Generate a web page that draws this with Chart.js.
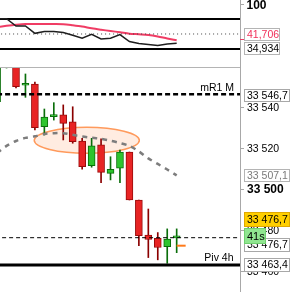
<!DOCTYPE html>
<html>
<head>
<meta charset="utf-8">
<script src="https://cdn.jsdelivr.net/npm/chart.js@4.4.1/dist/chart.umd.min.js"></script>
<style>
  html, body { margin: 0; padding: 0; background: #fff; }
  canvas { display: block; }
</style>
</head>
<body>
<canvas id="osc" width="290" height="67"></canvas>
<canvas id="price" width="290" height="225"></canvas>
<script>
// bars, -1 is cut by the left edge, 18 is the live one
const bars = [-1, 0, 1, 2, 3, 4, 5, 6, 7, 8, 9, 10, 11, 12, 13, 14, 15, 16, 17, 18];
const opens  = [33543.1, 33565, 33568, 33551.1, 33551.7, 33530.9, 33535.8, 33536.6, 33533.2, 33523.9, 33511.9, 33522.0, 33508.1, 33510.6, 33518.5, 33495.1, 33478.0, 33476.4, 33472.3, 33476.6];
const highs  = [33574, 33578, 33571, 33556.6, 33552.7, 33539.5, 33542.6, 33541.5, 33540.6, 33525.2, 33525.2, 33524.9, 33516.2, 33519.5, 33518.5, 33495.1, 33490.7, 33479.2, 33481.0, 33481.0];
const lows   = [33541, 33559.5, 33549.8, 33545.2, 33529.3, 33526.8, 33534.1, 33524.4, 33522.8, 33510.2, 33511.1, 33503.6, 33504.9, 33503.6, 33495.1, 33472.8, 33467.0, 33465.9, 33464.2, 33469.4];
const closes = [33570, 33572, 33550.4, 33552.0, 33530.4, 33535.5, 33536.0, 33532.5, 33523.6, 33511.4, 33521.5, 33508.6, 33510.1, 33518.5, 33495.1, 33477.7, 33475.8, 33471.9, 33476.0, 33476.7];

// grey dashed average
const trendCurve = [33518.0, 33521.5, 33523.9, 33525.4, 33526.2, 33527.3, 33527.7, 33527.7, 33526.9, 33526.1, 33525.5, 33524.9, 33524.0, 33522.9, 33521.5, 33518.8, 33515.4, 33512.7, 33510.0, 33507.1];

// oscillator panel
const oscMain   = [70.4, 70.4, 60.7, 60.7, 50.9, 53.3, 53.3, 52.0, 48.3, 44.3, 49.6, 43.3, 44.3, 49.3, 40.0, 37.3, 36.0, 34.7, 36.7, 37.6];
const oscSignal = [59.3, 60.9, 62.3, 63.3, 63.3, 63.3, 63.3, 63.1, 61.7, 60.0, 57.6, 55.7, 54.0, 52.3, 50.4, 49.6, 48.7, 46.7, 44.0, 41.706];
const oscLevels = [70, 50, 30];
const oscTopLabel = '100';
const oscTagValues = [41.706, 34.934];

// price levels
const MR1 = 33546.7;
const LAST = 33476.7;
const PIV = 33463.4;
const BID = 33472.8;
const barTimer = '41s';
// hand drawn ellipse (bar index / price)
const zone = { x: 8.49, y: 33524.2, rx: 5.56, ry: 6.34 };

const FONT = '"Liberation Sans", Arial, sans-serif';
const X_MIN = -0.693, X_MAX = 24.7;
const AXIS_GREY = '#a8a8a8';

function fmt(v, d) {
  const parts = v.toFixed(d).split('.');
  const int = parts[0].replace(/\B(?=(\d{3})+(?!\d))/g, ' ');
  return parts[1] ? int + ',' + parts[1] : int;
}

function hLine(y, color, width, dash) {
  return {
    type: 'line',
    data: [{ x: X_MIN - 2, y: y }, { x: X_MAX + 2, y: y }],
    borderColor: color, borderWidth: width, borderDash: dash || [],
    pointRadius: 0, clip: 0, order: 1
  };
}

function tagBox(ctx, x, yc, w, h, text, st) {
  const top = Math.round(yc - h / 2);
  ctx.fillStyle = st.bg;
  ctx.fillRect(x, top, w, h);
  ctx.strokeStyle = st.border;
  ctx.lineWidth = 1;
  ctx.strokeRect(x + 0.5, top + 0.5, w - 1, h - 1);
  ctx.fillStyle = st.color;
  ctx.font = st.font || ('10.5px ' + FONT);
  ctx.textAlign = 'left';
  ctx.textBaseline = 'middle';
  ctx.fillText(text, x + 3, top + h / 2 + 0.5);
}

// right axis: fixed width, no extra label padding
function fixAxis(s) {
  s.width = 50;
  s.paddingTop = 0;
  s.paddingBottom = 0;
}

const up = closes.map((c, i) => c >= opens[i]);

// ---------- oscillator ----------
const oscPlugin = {
  id: 'oscTags',
  afterDraw(chart) {
    const ctx = chart.ctx;
    const ys = chart.scales.y;
    const area = chart.chartArea;
    ctx.save();
    // top label
    ctx.strokeStyle = AXIS_GREY;
    ctx.lineWidth = 1;
    ctx.beginPath();
    ctx.moveTo(area.right, 4.5);
    ctx.lineTo(area.right + 4, 4.5);
    ctx.stroke();
    ctx.fillStyle = '#000';
    ctx.font = 'bold 12px ' + FONT;
    ctx.textBaseline = 'middle';
    ctx.fillText(oscTopLabel, area.right + 6.5, 6);
    // value marker
    const my = Math.round(ys.getPixelForValue(oscTagValues[0])) - 0.5;
    ctx.strokeStyle = '#f03c64';
    ctx.beginPath();
    ctx.moveTo(area.right, my);
    ctx.lineTo(area.right + 4, my);
    ctx.stroke();
    const styles = [
      { bg: '#fff', border: '#b4b4b4', color: '#f0305a', dy: -6 },
      { bg: '#fff', border: '#b4b4b4', color: '#000', dy: 3.7 }
    ];
    oscTagValues.forEach((v, i) => {
      tagBox(ctx, area.right + 4, ys.getPixelForValue(v) + styles[i].dy, 36, 13, fmt(v, 3), styles[i]);
    });
    ctx.restore();
  }
};

new Chart(document.getElementById('osc'), {
  type: 'line',
  data: {
    datasets: [
      { data: bars.map((k, i) => ({ x: k, y: oscSignal[i] })), borderColor: '#f03c64', borderWidth: 2, pointRadius: 0, tension: 0.3, clip: 0, order: 2 },
      { data: bars.map((k, i) => ({ x: k, y: oscMain[i] })), borderColor: '#1e1e1e', borderWidth: 1.5, pointRadius: 0, tension: 0, clip: 0, order: 1 },
      hLine(oscLevels[0], '#000', 2),
      hLine(oscLevels[1], '#444', 1, [1, 3]),
      hLine(oscLevels[2], '#000', 2)
    ]
  },
  options: {
    responsive: false,
    animation: false,
    events: [],
    layout: { padding: 0 },
    plugins: { legend: { display: false }, tooltip: { enabled: false } },
    scales: {
      x: { type: 'linear', min: X_MIN, max: X_MAX, display: false },
      y: {
        position: 'right', min: 6, max: 95.333,
        afterFit: fixAxis,
        grid: { display: false },
        border: { display: true, color: AXIS_GREY },
        ticks: { display: false }
      }
    }
  },
  plugins: [oscPlugin]
});

// ---------- price ----------
const pricePlugin = {
  id: 'priceExtras',
  beforeDatasetsDraw(chart) {
    const ctx = chart.ctx;
    const xs = chart.scales.x, ys = chart.scales.y;
    const cx = xs.getPixelForValue(zone.x), cy = ys.getPixelForValue(zone.y);
    const rx = Math.abs(xs.getPixelForValue(zone.x + zone.rx) - cx);
    const ry = Math.abs(ys.getPixelForValue(zone.y + zone.ry) - cy);
    ctx.save();
    ctx.beginPath();
    ctx.ellipse(cx, cy, rx, ry, 0, 0, Math.PI * 2);
    ctx.fillStyle = 'rgba(255, 170, 120, 0.22)';
    ctx.fill();
    ctx.strokeStyle = '#ff9a5c';
    ctx.lineWidth = 1.5;
    ctx.stroke();
    ctx.restore();
  },
  afterDraw(chart) {
    const ctx = chart.ctx;
    const ys = chart.scales.y;
    const area = chart.chartArea;
    ctx.save();
    // panel separator
    ctx.strokeStyle = '#b4b4b4';
    ctx.lineWidth = 1;
    ctx.beginPath();
    ctx.moveTo(0, area.top + 0.5);
    ctx.lineTo(area.right, area.top + 0.5);
    ctx.stroke();
    // line captions
    ctx.fillStyle = '#000';
    ctx.font = '10.5px ' + FONT;
    ctx.textAlign = 'right';
    ctx.textBaseline = 'alphabetic';
    ctx.fillText('mR1 M', area.right - 6, ys.getPixelForValue(MR1) - 3);
    ctx.fillText('Piv 4h', area.right - 6.5, ys.getPixelForValue(PIV) - 4);
    // axis tags
    const x0 = area.right + 4;
    const plain = { bg: '#fff', border: '#a8a8a8', color: '#000' };
    const trendLast = trendCurve[trendCurve.length - 1];
    tagBox(ctx, x0, ys.getPixelForValue(MR1) + 1.5, 46, 13, fmt(MR1, 1), plain);
    tagBox(ctx, x0, ys.getPixelForValue(trendLast), 46, 13, fmt(trendLast, 1), { bg: '#fff', border: '#b4b4b4', color: '#7a7a7a' });
    tagBox(ctx, x0, ys.getPixelForValue(LAST) + 7, 46, 14, fmt(LAST, 1), plain);
    tagBox(ctx, x0, ys.getPixelForValue(PIV), 46, 14, fmt(PIV, 1), plain);
    tagBox(ctx, x0, ys.getPixelForValue(LAST) - 17.8, 46, 15, fmt(LAST, 1), { bg: '#ffcf00', border: '#e0a800', color: '#000' });
    tagBox(ctx, x0, ys.getPixelForValue(LAST) - 1.6, 22, 16, barTimer, { bg: '#90e690', border: '#6fcf6f', color: '#000', font: '11px ' + FONT });
    ctx.restore();
  }
};

new Chart(document.getElementById('price'), {
  type: 'bar',
  data: {
    datasets: [
      {
        data: bars.map((k, i) => ({ x: k, y: [lows[i], highs[i]] })),
        backgroundColor: up.map(u => u ? '#0a6e0a' : '#8b0000'),
        barThickness: 1, grouped: false, clip: 0, order: 4
      },
      {
        data: bars.map((k, i) => ({ x: k, y: [opens[i], closes[i]] })),
        backgroundColor: up.map(u => u ? '#2ec42e' : '#e82424'),
        borderColor: up.map(u => u ? '#0a6e0a' : '#9a0a0a'),
        borderWidth: 1, borderSkipped: false, barThickness: 7, minBarLength: 2,
        grouped: false, clip: 0, order: 3
      },
      {
        type: 'line',
        data: bars.map((k, i) => ({ x: k, y: trendCurve[i] })),
        borderColor: '#7d7d7d', borderWidth: 2.5, borderDash: [5, 5],
        pointRadius: 0, tension: 0.3, clip: 0, order: 2
      },
      hLine(MR1, '#000', 2.5, [5, 3]),
      hLine(LAST, '#000', 1, [4, 3]),
      hLine(PIV, '#000', 3),
      {
        type: 'line',
        data: [{ x: bars[bars.length - 1], y: BID }, { x: bars[bars.length - 1] + 0.95, y: BID }],
        borderColor: '#ff7a1a', borderWidth: 2, pointRadius: 0, clip: 0, order: 1
      }
    ]
  },
  options: {
    responsive: false,
    animation: false,
    events: [],
    layout: { padding: 0 },
    plugins: { legend: { display: false }, tooltip: { enabled: false } },
    scales: {
      x: { type: 'linear', min: X_MIN, max: X_MAX, offset: false, display: false },
      y: {
        position: 'right', min: 33450.2, max: 33560, beginAtZero: false,
        afterFit: fixAxis,
        afterBuildTicks: s => { s.ticks = s.ticks.filter(t => t.value < 33555); },
        grid: { drawOnChartArea: false, tickLength: 4, color: AXIS_GREY },
        border: { display: true, color: AXIS_GREY },
        ticks: {
          stepSize: 20, includeBounds: false, padding: 3, color: '#000',
          font: c => {
            const big = c.tick && Math.abs(c.tick.value % 100) < 0.01;
            return { family: FONT, size: big ? 12 : 10.5, weight: big ? 'bold' : 'normal' };
          },
          callback: v => fmt(v, 0)
        }
      }
    }
  },
  plugins: [pricePlugin]
});
</script>
</body>
</html>
